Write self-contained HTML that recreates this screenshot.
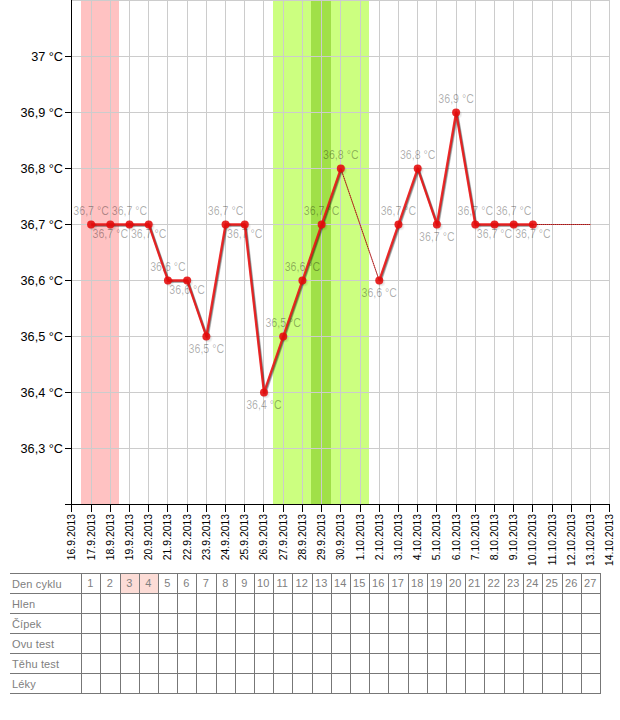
<!DOCTYPE html><html><head><meta charset="utf-8"><style>html,body{margin:0;padding:0;background:#fff;width:620px;height:720px;overflow:hidden}svg{display:block}text{font-family:"Liberation Sans",sans-serif}</style></head><body>
<svg width="620" height="720" viewBox="0 0 620 720">
<g shape-rendering="crispEdges"><rect x="81" y="0" width="38" height="504" fill="#ffc2c2"/>
<rect x="273" y="0" width="96" height="504" fill="#ccff80"/>
<rect x="311" y="0" width="20" height="504" fill="#a0e048"/></g>
<path d="M91.5 0V504 M110.5 0V504 M129.5 0V504 M148.5 0V504 M167.5 0V504 M187.5 0V504 M206.5 0V504 M225.5 0V504 M244.5 0V504 M263.5 0V504 M283.5 0V504 M302.5 0V504 M321.5 0V504 M340.5 0V504 M360.5 0V504 M379.5 0V504 M398.5 0V504 M417.5 0V504 M436.5 0V504 M456.5 0V504 M475.5 0V504 M494.5 0V504 M513.5 0V504 M532.5 0V504 M552.5 0V504 M571.5 0V504 M590.5 0V504 M609.5 0V504 M72 0.5H609.5 M72 56.5H609.5 M72 112.5H609.5 M72 168.5H609.5 M72 224.5H609.5 M72 280.5H609.5 M72 336.5H609.5 M72 392.5H609.5 M72 448.5H609.5" stroke="#cccccc" stroke-width="1" fill="none" shape-rendering="crispEdges"/>
<path d="M71.5 0V504 M65 504.5H610 M65 56.5H71 M65 112.5H71 M65 168.5H71 M65 224.5H71 M65 280.5H71 M65 336.5H71 M65 392.5H71 M65 448.5H71 M71.5 504V512 M91.5 504V512 M110.5 504V512 M129.5 504V512 M148.5 504V512 M167.5 504V512 M187.5 504V512 M206.5 504V512 M225.5 504V512 M244.5 504V512 M263.5 504V512 M283.5 504V512 M302.5 504V512 M321.5 504V512 M340.5 504V512 M360.5 504V512 M379.5 504V512 M398.5 504V512 M417.5 504V512 M436.5 504V512 M456.5 504V512 M475.5 504V512 M494.5 504V512 M513.5 504V512 M532.5 504V512 M552.5 504V512 M571.5 504V512 M590.5 504V512 M609.5 504V512" stroke="#000000" stroke-width="1" fill="none" shape-rendering="crispEdges"/>
<text transform="translate(63,60.6) scale(0.94,1)" font-size="13.5" text-anchor="end" fill="#000">37 °C</text>
<text transform="translate(63,116.6) scale(0.94,1)" font-size="13.5" text-anchor="end" fill="#000">36,9 °C</text>
<text transform="translate(63,172.6) scale(0.94,1)" font-size="13.5" text-anchor="end" fill="#000">36,8 °C</text>
<text transform="translate(63,228.6) scale(0.94,1)" font-size="13.5" text-anchor="end" fill="#000">36,7 °C</text>
<text transform="translate(63,284.6) scale(0.94,1)" font-size="13.5" text-anchor="end" fill="#000">36,6 °C</text>
<text transform="translate(63,340.6) scale(0.94,1)" font-size="13.5" text-anchor="end" fill="#000">36,5 °C</text>
<text transform="translate(63,396.6) scale(0.94,1)" font-size="13.5" text-anchor="end" fill="#000">36,4 °C</text>
<text transform="translate(63,452.6) scale(0.94,1)" font-size="13.5" text-anchor="end" fill="#000">36,3 °C</text>
<text transform="translate(74.9,514) rotate(-90)" font-size="10.4" text-anchor="end" fill="#000">16.9.2013</text>
<text transform="translate(94.9,514) rotate(-90)" font-size="10.4" text-anchor="end" fill="#000">17.9.2013</text>
<text transform="translate(113.9,514) rotate(-90)" font-size="10.4" text-anchor="end" fill="#000">18.9.2013</text>
<text transform="translate(132.9,514) rotate(-90)" font-size="10.4" text-anchor="end" fill="#000">19.9.2013</text>
<text transform="translate(151.9,514) rotate(-90)" font-size="10.4" text-anchor="end" fill="#000">20.9.2013</text>
<text transform="translate(170.9,514) rotate(-90)" font-size="10.4" text-anchor="end" fill="#000">21.9.2013</text>
<text transform="translate(190.9,514) rotate(-90)" font-size="10.4" text-anchor="end" fill="#000">22.9.2013</text>
<text transform="translate(209.9,514) rotate(-90)" font-size="10.4" text-anchor="end" fill="#000">23.9.2013</text>
<text transform="translate(228.9,514) rotate(-90)" font-size="10.4" text-anchor="end" fill="#000">24.9.2013</text>
<text transform="translate(247.9,514) rotate(-90)" font-size="10.4" text-anchor="end" fill="#000">25.9.2013</text>
<text transform="translate(266.9,514) rotate(-90)" font-size="10.4" text-anchor="end" fill="#000">26.9.2013</text>
<text transform="translate(286.9,514) rotate(-90)" font-size="10.4" text-anchor="end" fill="#000">27.9.2013</text>
<text transform="translate(305.9,514) rotate(-90)" font-size="10.4" text-anchor="end" fill="#000">28.9.2013</text>
<text transform="translate(324.9,514) rotate(-90)" font-size="10.4" text-anchor="end" fill="#000">29.9.2013</text>
<text transform="translate(343.9,514) rotate(-90)" font-size="10.4" text-anchor="end" fill="#000">30.9.2013</text>
<text transform="translate(363.9,514) rotate(-90)" font-size="10.4" text-anchor="end" fill="#000">1.10.2013</text>
<text transform="translate(382.9,514) rotate(-90)" font-size="10.4" text-anchor="end" fill="#000">2.10.2013</text>
<text transform="translate(401.9,514) rotate(-90)" font-size="10.4" text-anchor="end" fill="#000">3.10.2013</text>
<text transform="translate(420.9,514) rotate(-90)" font-size="10.4" text-anchor="end" fill="#000">4.10.2013</text>
<text transform="translate(439.9,514) rotate(-90)" font-size="10.4" text-anchor="end" fill="#000">5.10.2013</text>
<text transform="translate(459.9,514) rotate(-90)" font-size="10.4" text-anchor="end" fill="#000">6.10.2013</text>
<text transform="translate(478.9,514) rotate(-90)" font-size="10.4" text-anchor="end" fill="#000">7.10.2013</text>
<text transform="translate(497.9,514) rotate(-90)" font-size="10.4" text-anchor="end" fill="#000">8.10.2013</text>
<text transform="translate(516.9,514) rotate(-90)" font-size="10.4" text-anchor="end" fill="#000">9.10.2013</text>
<text transform="translate(535.9,514) rotate(-90)" font-size="10.4" text-anchor="end" fill="#000">10.10.2013</text>
<text transform="translate(555.9,514) rotate(-90)" font-size="10.4" text-anchor="end" fill="#000">11.10.2013</text>
<text transform="translate(574.9,514) rotate(-90)" font-size="10.4" text-anchor="end" fill="#000">12.10.2013</text>
<text transform="translate(593.9,514) rotate(-90)" font-size="10.4" text-anchor="end" fill="#000">13.10.2013</text>
<text transform="translate(612.9,514) rotate(-90)" font-size="10.4" text-anchor="end" fill="#000">14.10.2013</text>
<text transform="translate(91.08,214.80) scale(0.885,1)" font-size="12" text-anchor="middle" fill="rgba(0,0,0,0.32)">36,7 °C</text>
<text transform="translate(110.29,237.70) scale(0.885,1)" font-size="12" text-anchor="middle" fill="rgba(0,0,0,0.32)">36,7 °C</text>
<text transform="translate(129.50,214.80) scale(0.885,1)" font-size="12" text-anchor="middle" fill="rgba(0,0,0,0.32)">36,7 °C</text>
<text transform="translate(148.71,237.70) scale(0.885,1)" font-size="12" text-anchor="middle" fill="rgba(0,0,0,0.32)">36,7 °C</text>
<text transform="translate(167.92,270.80) scale(0.885,1)" font-size="12" text-anchor="middle" fill="rgba(0,0,0,0.32)">36,6 °C</text>
<text transform="translate(187.13,293.70) scale(0.885,1)" font-size="12" text-anchor="middle" fill="rgba(0,0,0,0.32)">36,6 °C</text>
<text transform="translate(206.34,352.70) scale(0.885,1)" font-size="12" text-anchor="middle" fill="rgba(0,0,0,0.32)">36,5 °C</text>
<text transform="translate(225.55,214.80) scale(0.885,1)" font-size="12" text-anchor="middle" fill="rgba(0,0,0,0.32)">36,7 °C</text>
<text transform="translate(244.76,237.70) scale(0.885,1)" font-size="12" text-anchor="middle" fill="rgba(0,0,0,0.32)">36,7 °C</text>
<text transform="translate(263.98,408.70) scale(0.885,1)" font-size="12" text-anchor="middle" fill="rgba(0,0,0,0.32)">36,4 °C</text>
<text transform="translate(283.19,326.80) scale(0.885,1)" font-size="12" text-anchor="middle" fill="rgba(0,0,0,0.32)">36,5 °C</text>
<text transform="translate(302.40,270.80) scale(0.885,1)" font-size="12" text-anchor="middle" fill="rgba(0,0,0,0.32)">36,6 °C</text>
<text transform="translate(321.61,214.80) scale(0.885,1)" font-size="12" text-anchor="middle" fill="rgba(0,0,0,0.32)">36,7 °C</text>
<text transform="translate(340.82,158.80) scale(0.885,1)" font-size="12" text-anchor="middle" fill="rgba(0,0,0,0.32)">36,8 °C</text>
<text transform="translate(379.24,296.70) scale(0.885,1)" font-size="12" text-anchor="middle" fill="rgba(0,0,0,0.32)">36,6 °C</text>
<text transform="translate(398.45,214.80) scale(0.885,1)" font-size="12" text-anchor="middle" fill="rgba(0,0,0,0.32)">36,7 °C</text>
<text transform="translate(417.66,158.80) scale(0.885,1)" font-size="12" text-anchor="middle" fill="rgba(0,0,0,0.32)">36,8 °C</text>
<text transform="translate(436.87,240.70) scale(0.885,1)" font-size="12" text-anchor="middle" fill="rgba(0,0,0,0.32)">36,7 °C</text>
<text transform="translate(456.08,102.80) scale(0.885,1)" font-size="12" text-anchor="middle" fill="rgba(0,0,0,0.32)">36,9 °C</text>
<text transform="translate(475.29,214.80) scale(0.885,1)" font-size="12" text-anchor="middle" fill="rgba(0,0,0,0.32)">36,7 °C</text>
<text transform="translate(494.50,237.70) scale(0.885,1)" font-size="12" text-anchor="middle" fill="rgba(0,0,0,0.32)">36,7 °C</text>
<text transform="translate(513.71,214.80) scale(0.885,1)" font-size="12" text-anchor="middle" fill="rgba(0,0,0,0.32)">36,7 °C</text>
<text transform="translate(532.92,237.70) scale(0.885,1)" font-size="12" text-anchor="middle" fill="rgba(0,0,0,0.32)">36,7 °C</text>
<path d="M340.82 168.5000000000016L379.24 280.4999999999992M532.92 224.4999999999984L590.55 224.4999999999984" stroke="rgba(225,30,30,0.8)" stroke-width="1" fill="none"/>
<path d="M340.82 168.5000000000016L379.24 280.4999999999992M532.92 224.4999999999984L590.55 224.4999999999984" stroke="rgba(40,0,0,0.5)" stroke-width="1" stroke-dasharray="1 1" fill="none"/>
<polyline transform="translate(0.424,0.424)" points="91.08,224.50 110.29,224.50 129.50,224.50 148.71,224.50 167.92,280.50 187.13,280.50 206.34,336.50 225.55,224.50 244.76,224.50 263.98,392.50 283.19,336.50 302.40,280.50 321.61,224.50 340.82,168.50" stroke="rgba(0,0,0,0.22)" stroke-width="2.3" fill="none" stroke-linejoin="round"/>
<polyline transform="translate(0.424,0.424)" points="379.24,280.50 398.45,224.50 417.66,168.50 436.87,224.50 456.08,112.50 475.29,224.50 494.50,224.50 513.71,224.50 532.92,224.50" stroke="rgba(0,0,0,0.22)" stroke-width="2.3" fill="none" stroke-linejoin="round"/>
<polyline transform="translate(0.849,0.849)" points="91.08,224.50 110.29,224.50 129.50,224.50 148.71,224.50 167.92,280.50 187.13,280.50 206.34,336.50 225.55,224.50 244.76,224.50 263.98,392.50 283.19,336.50 302.40,280.50 321.61,224.50 340.82,168.50" stroke="rgba(0,0,0,0.22)" stroke-width="2.3" fill="none" stroke-linejoin="round"/>
<polyline transform="translate(0.849,0.849)" points="379.24,280.50 398.45,224.50 417.66,168.50 436.87,224.50 456.08,112.50 475.29,224.50 494.50,224.50 513.71,224.50 532.92,224.50" stroke="rgba(0,0,0,0.22)" stroke-width="2.3" fill="none" stroke-linejoin="round"/>
<polyline transform="translate(1.273,1.273)" points="91.08,224.50 110.29,224.50 129.50,224.50 148.71,224.50 167.92,280.50 187.13,280.50 206.34,336.50 225.55,224.50 244.76,224.50 263.98,392.50 283.19,336.50 302.40,280.50 321.61,224.50 340.82,168.50" stroke="rgba(0,0,0,0.22)" stroke-width="2.3" fill="none" stroke-linejoin="round"/>
<polyline transform="translate(1.273,1.273)" points="379.24,280.50 398.45,224.50 417.66,168.50 436.87,224.50 456.08,112.50 475.29,224.50 494.50,224.50 513.71,224.50 532.92,224.50" stroke="rgba(0,0,0,0.22)" stroke-width="2.3" fill="none" stroke-linejoin="round"/>
<polyline points="91.08,224.50 110.29,224.50 129.50,224.50 148.71,224.50 167.92,280.50 187.13,280.50 206.34,336.50 225.55,224.50 244.76,224.50 263.98,392.50 283.19,336.50 302.40,280.50 321.61,224.50 340.82,168.50" stroke="rgba(240,20,20,0.88)" stroke-width="2.3" fill="none" stroke-linejoin="round"/>
<polyline points="379.24,280.50 398.45,224.50 417.66,168.50 436.87,224.50 456.08,112.50 475.29,224.50 494.50,224.50 513.71,224.50 532.92,224.50" stroke="rgba(240,20,20,0.88)" stroke-width="2.3" fill="none" stroke-linejoin="round"/>
<circle cx="91.79" cy="225.21" r="4" fill="rgba(0,0,0,0.04)"/>
<circle cx="92.49" cy="225.91" r="4" fill="rgba(0,0,0,0.04)"/>
<circle cx="93.20" cy="226.62" r="4" fill="rgba(0,0,0,0.04)"/>
<circle cx="91.08" cy="224.50" r="4" fill="rgba(230,10,10,0.88)"/>
<circle cx="111.00" cy="225.21" r="4" fill="rgba(0,0,0,0.04)"/>
<circle cx="111.71" cy="225.91" r="4" fill="rgba(0,0,0,0.04)"/>
<circle cx="112.41" cy="226.62" r="4" fill="rgba(0,0,0,0.04)"/>
<circle cx="110.29" cy="224.50" r="4" fill="rgba(230,10,10,0.88)"/>
<circle cx="130.21" cy="225.21" r="4" fill="rgba(0,0,0,0.04)"/>
<circle cx="130.92" cy="225.91" r="4" fill="rgba(0,0,0,0.04)"/>
<circle cx="131.62" cy="226.62" r="4" fill="rgba(0,0,0,0.04)"/>
<circle cx="129.50" cy="224.50" r="4" fill="rgba(230,10,10,0.88)"/>
<circle cx="149.42" cy="225.21" r="4" fill="rgba(0,0,0,0.04)"/>
<circle cx="150.13" cy="225.91" r="4" fill="rgba(0,0,0,0.04)"/>
<circle cx="150.83" cy="226.62" r="4" fill="rgba(0,0,0,0.04)"/>
<circle cx="148.71" cy="224.50" r="4" fill="rgba(230,10,10,0.88)"/>
<circle cx="168.63" cy="281.21" r="4" fill="rgba(0,0,0,0.04)"/>
<circle cx="169.34" cy="281.91" r="4" fill="rgba(0,0,0,0.04)"/>
<circle cx="170.04" cy="282.62" r="4" fill="rgba(0,0,0,0.04)"/>
<circle cx="167.92" cy="280.50" r="4" fill="rgba(230,10,10,0.88)"/>
<circle cx="187.84" cy="281.21" r="4" fill="rgba(0,0,0,0.04)"/>
<circle cx="188.55" cy="281.91" r="4" fill="rgba(0,0,0,0.04)"/>
<circle cx="189.25" cy="282.62" r="4" fill="rgba(0,0,0,0.04)"/>
<circle cx="187.13" cy="280.50" r="4" fill="rgba(230,10,10,0.88)"/>
<circle cx="207.05" cy="337.21" r="4" fill="rgba(0,0,0,0.04)"/>
<circle cx="207.76" cy="337.91" r="4" fill="rgba(0,0,0,0.04)"/>
<circle cx="208.46" cy="338.62" r="4" fill="rgba(0,0,0,0.04)"/>
<circle cx="206.34" cy="336.50" r="4" fill="rgba(230,10,10,0.88)"/>
<circle cx="226.26" cy="225.21" r="4" fill="rgba(0,0,0,0.04)"/>
<circle cx="226.97" cy="225.91" r="4" fill="rgba(0,0,0,0.04)"/>
<circle cx="227.68" cy="226.62" r="4" fill="rgba(0,0,0,0.04)"/>
<circle cx="225.55" cy="224.50" r="4" fill="rgba(230,10,10,0.88)"/>
<circle cx="245.47" cy="225.21" r="4" fill="rgba(0,0,0,0.04)"/>
<circle cx="246.18" cy="225.91" r="4" fill="rgba(0,0,0,0.04)"/>
<circle cx="246.89" cy="226.62" r="4" fill="rgba(0,0,0,0.04)"/>
<circle cx="244.76" cy="224.50" r="4" fill="rgba(230,10,10,0.88)"/>
<circle cx="264.68" cy="393.21" r="4" fill="rgba(0,0,0,0.04)"/>
<circle cx="265.39" cy="393.91" r="4" fill="rgba(0,0,0,0.04)"/>
<circle cx="266.10" cy="394.62" r="4" fill="rgba(0,0,0,0.04)"/>
<circle cx="263.98" cy="392.50" r="4" fill="rgba(230,10,10,0.88)"/>
<circle cx="283.89" cy="337.21" r="4" fill="rgba(0,0,0,0.04)"/>
<circle cx="284.60" cy="337.91" r="4" fill="rgba(0,0,0,0.04)"/>
<circle cx="285.31" cy="338.62" r="4" fill="rgba(0,0,0,0.04)"/>
<circle cx="283.19" cy="336.50" r="4" fill="rgba(230,10,10,0.88)"/>
<circle cx="303.10" cy="281.21" r="4" fill="rgba(0,0,0,0.04)"/>
<circle cx="303.81" cy="281.91" r="4" fill="rgba(0,0,0,0.04)"/>
<circle cx="304.52" cy="282.62" r="4" fill="rgba(0,0,0,0.04)"/>
<circle cx="302.40" cy="280.50" r="4" fill="rgba(230,10,10,0.88)"/>
<circle cx="322.31" cy="225.21" r="4" fill="rgba(0,0,0,0.04)"/>
<circle cx="323.02" cy="225.91" r="4" fill="rgba(0,0,0,0.04)"/>
<circle cx="323.73" cy="226.62" r="4" fill="rgba(0,0,0,0.04)"/>
<circle cx="321.61" cy="224.50" r="4" fill="rgba(230,10,10,0.88)"/>
<circle cx="341.52" cy="169.21" r="4" fill="rgba(0,0,0,0.04)"/>
<circle cx="342.23" cy="169.91" r="4" fill="rgba(0,0,0,0.04)"/>
<circle cx="342.94" cy="170.62" r="4" fill="rgba(0,0,0,0.04)"/>
<circle cx="340.82" cy="168.50" r="4" fill="rgba(230,10,10,0.88)"/>
<circle cx="379.95" cy="281.21" r="4" fill="rgba(0,0,0,0.04)"/>
<circle cx="380.65" cy="281.91" r="4" fill="rgba(0,0,0,0.04)"/>
<circle cx="381.36" cy="282.62" r="4" fill="rgba(0,0,0,0.04)"/>
<circle cx="379.24" cy="280.50" r="4" fill="rgba(230,10,10,0.88)"/>
<circle cx="399.16" cy="225.21" r="4" fill="rgba(0,0,0,0.04)"/>
<circle cx="399.86" cy="225.91" r="4" fill="rgba(0,0,0,0.04)"/>
<circle cx="400.57" cy="226.62" r="4" fill="rgba(0,0,0,0.04)"/>
<circle cx="398.45" cy="224.50" r="4" fill="rgba(230,10,10,0.88)"/>
<circle cx="418.37" cy="169.21" r="4" fill="rgba(0,0,0,0.04)"/>
<circle cx="419.07" cy="169.91" r="4" fill="rgba(0,0,0,0.04)"/>
<circle cx="419.78" cy="170.62" r="4" fill="rgba(0,0,0,0.04)"/>
<circle cx="417.66" cy="168.50" r="4" fill="rgba(230,10,10,0.88)"/>
<circle cx="437.58" cy="225.21" r="4" fill="rgba(0,0,0,0.04)"/>
<circle cx="438.28" cy="225.91" r="4" fill="rgba(0,0,0,0.04)"/>
<circle cx="438.99" cy="226.62" r="4" fill="rgba(0,0,0,0.04)"/>
<circle cx="436.87" cy="224.50" r="4" fill="rgba(230,10,10,0.88)"/>
<circle cx="456.79" cy="113.21" r="4" fill="rgba(0,0,0,0.04)"/>
<circle cx="457.49" cy="113.91" r="4" fill="rgba(0,0,0,0.04)"/>
<circle cx="458.20" cy="114.62" r="4" fill="rgba(0,0,0,0.04)"/>
<circle cx="456.08" cy="112.50" r="4" fill="rgba(230,10,10,0.88)"/>
<circle cx="476.00" cy="225.21" r="4" fill="rgba(0,0,0,0.04)"/>
<circle cx="476.70" cy="225.91" r="4" fill="rgba(0,0,0,0.04)"/>
<circle cx="477.41" cy="226.62" r="4" fill="rgba(0,0,0,0.04)"/>
<circle cx="475.29" cy="224.50" r="4" fill="rgba(230,10,10,0.88)"/>
<circle cx="495.21" cy="225.21" r="4" fill="rgba(0,0,0,0.04)"/>
<circle cx="495.92" cy="225.91" r="4" fill="rgba(0,0,0,0.04)"/>
<circle cx="496.62" cy="226.62" r="4" fill="rgba(0,0,0,0.04)"/>
<circle cx="494.50" cy="224.50" r="4" fill="rgba(230,10,10,0.88)"/>
<circle cx="514.42" cy="225.21" r="4" fill="rgba(0,0,0,0.04)"/>
<circle cx="515.13" cy="225.91" r="4" fill="rgba(0,0,0,0.04)"/>
<circle cx="515.83" cy="226.62" r="4" fill="rgba(0,0,0,0.04)"/>
<circle cx="513.71" cy="224.50" r="4" fill="rgba(230,10,10,0.88)"/>
<circle cx="533.63" cy="225.21" r="4" fill="rgba(0,0,0,0.04)"/>
<circle cx="534.34" cy="225.91" r="4" fill="rgba(0,0,0,0.04)"/>
<circle cx="535.04" cy="226.62" r="4" fill="rgba(0,0,0,0.04)"/>
<circle cx="532.92" cy="224.50" r="4" fill="rgba(230,10,10,0.88)"/>
<rect x="121" y="574" width="18" height="19" fill="#fcdcd6"/>
<rect x="140" y="574" width="18" height="19" fill="#fcdcd6"/>
<path d="M10 573.5H601 M10 593.5H601 M10 613.5H601 M10 633.5H601 M10 653.5H601 M10 673.5H601 M10 693.5H601 M81.5 573V694 M100.5 573V694 M120.5 573V694 M139.5 573V694 M158.5 573V694 M177.5 573V694 M196.5 573V694 M216.5 573V694 M235.5 573V694 M254.5 573V694 M273.5 573V694 M292.5 573V694 M312.5 573V694 M331.5 573V694 M350.5 573V694 M369.5 573V694 M388.5 573V694 M408.5 573V694 M427.5 573V694 M446.5 573V694 M465.5 573V694 M484.5 573V694 M504.5 573V694 M523.5 573V694 M542.5 573V694 M562.5 573V694 M581.5 573V694 M600.5 573V694" stroke="#777777" stroke-width="1" fill="none" shape-rendering="crispEdges"/>
<text x="12" y="588" font-size="11" fill="#808080" letter-spacing="0.15">Den cyklu</text>
<text x="12" y="608" font-size="11" fill="#808080" letter-spacing="0.15">Hlen</text>
<text x="12" y="628" font-size="11" fill="#808080" letter-spacing="0.15">Čípek</text>
<text x="12" y="648" font-size="11" fill="#808080" letter-spacing="0.15">Ovu test</text>
<text x="12" y="668" font-size="11" fill="#808080" letter-spacing="0.15">Těhu test</text>
<text x="12" y="688" font-size="11" fill="#808080" letter-spacing="0.15">Léky</text>
<text x="90.2" y="587.3" font-size="11" text-anchor="middle" fill="#808080">1</text>
<text x="109.7" y="587.3" font-size="11" text-anchor="middle" fill="#808080">2</text>
<text x="129.2" y="587.3" font-size="11" text-anchor="middle" fill="#808080">3</text>
<text x="148.2" y="587.3" font-size="11" text-anchor="middle" fill="#808080">4</text>
<text x="167.2" y="587.3" font-size="11" text-anchor="middle" fill="#808080">5</text>
<text x="186.2" y="587.3" font-size="11" text-anchor="middle" fill="#808080">6</text>
<text x="205.7" y="587.3" font-size="11" text-anchor="middle" fill="#808080">7</text>
<text x="225.2" y="587.3" font-size="11" text-anchor="middle" fill="#808080">8</text>
<text x="244.2" y="587.3" font-size="11" text-anchor="middle" fill="#808080">9</text>
<text x="263.2" y="587.3" font-size="11" text-anchor="middle" fill="#808080">10</text>
<text x="282.2" y="587.3" font-size="11" text-anchor="middle" fill="#808080">11</text>
<text x="301.7" y="587.3" font-size="11" text-anchor="middle" fill="#808080">12</text>
<text x="321.2" y="587.3" font-size="11" text-anchor="middle" fill="#808080">13</text>
<text x="340.2" y="587.3" font-size="11" text-anchor="middle" fill="#808080">14</text>
<text x="359.2" y="587.3" font-size="11" text-anchor="middle" fill="#808080">15</text>
<text x="378.2" y="587.3" font-size="11" text-anchor="middle" fill="#808080">16</text>
<text x="397.7" y="587.3" font-size="11" text-anchor="middle" fill="#808080">17</text>
<text x="417.2" y="587.3" font-size="11" text-anchor="middle" fill="#808080">18</text>
<text x="436.2" y="587.3" font-size="11" text-anchor="middle" fill="#808080">19</text>
<text x="455.2" y="587.3" font-size="11" text-anchor="middle" fill="#808080">20</text>
<text x="474.2" y="587.3" font-size="11" text-anchor="middle" fill="#808080">21</text>
<text x="493.7" y="587.3" font-size="11" text-anchor="middle" fill="#808080">22</text>
<text x="513.2" y="587.3" font-size="11" text-anchor="middle" fill="#808080">23</text>
<text x="532.2" y="587.3" font-size="11" text-anchor="middle" fill="#808080">24</text>
<text x="551.7" y="587.3" font-size="11" text-anchor="middle" fill="#808080">25</text>
<text x="571.2" y="587.3" font-size="11" text-anchor="middle" fill="#808080">26</text>
<text x="590.2" y="587.3" font-size="11" text-anchor="middle" fill="#808080">27</text>
</svg></body></html>
